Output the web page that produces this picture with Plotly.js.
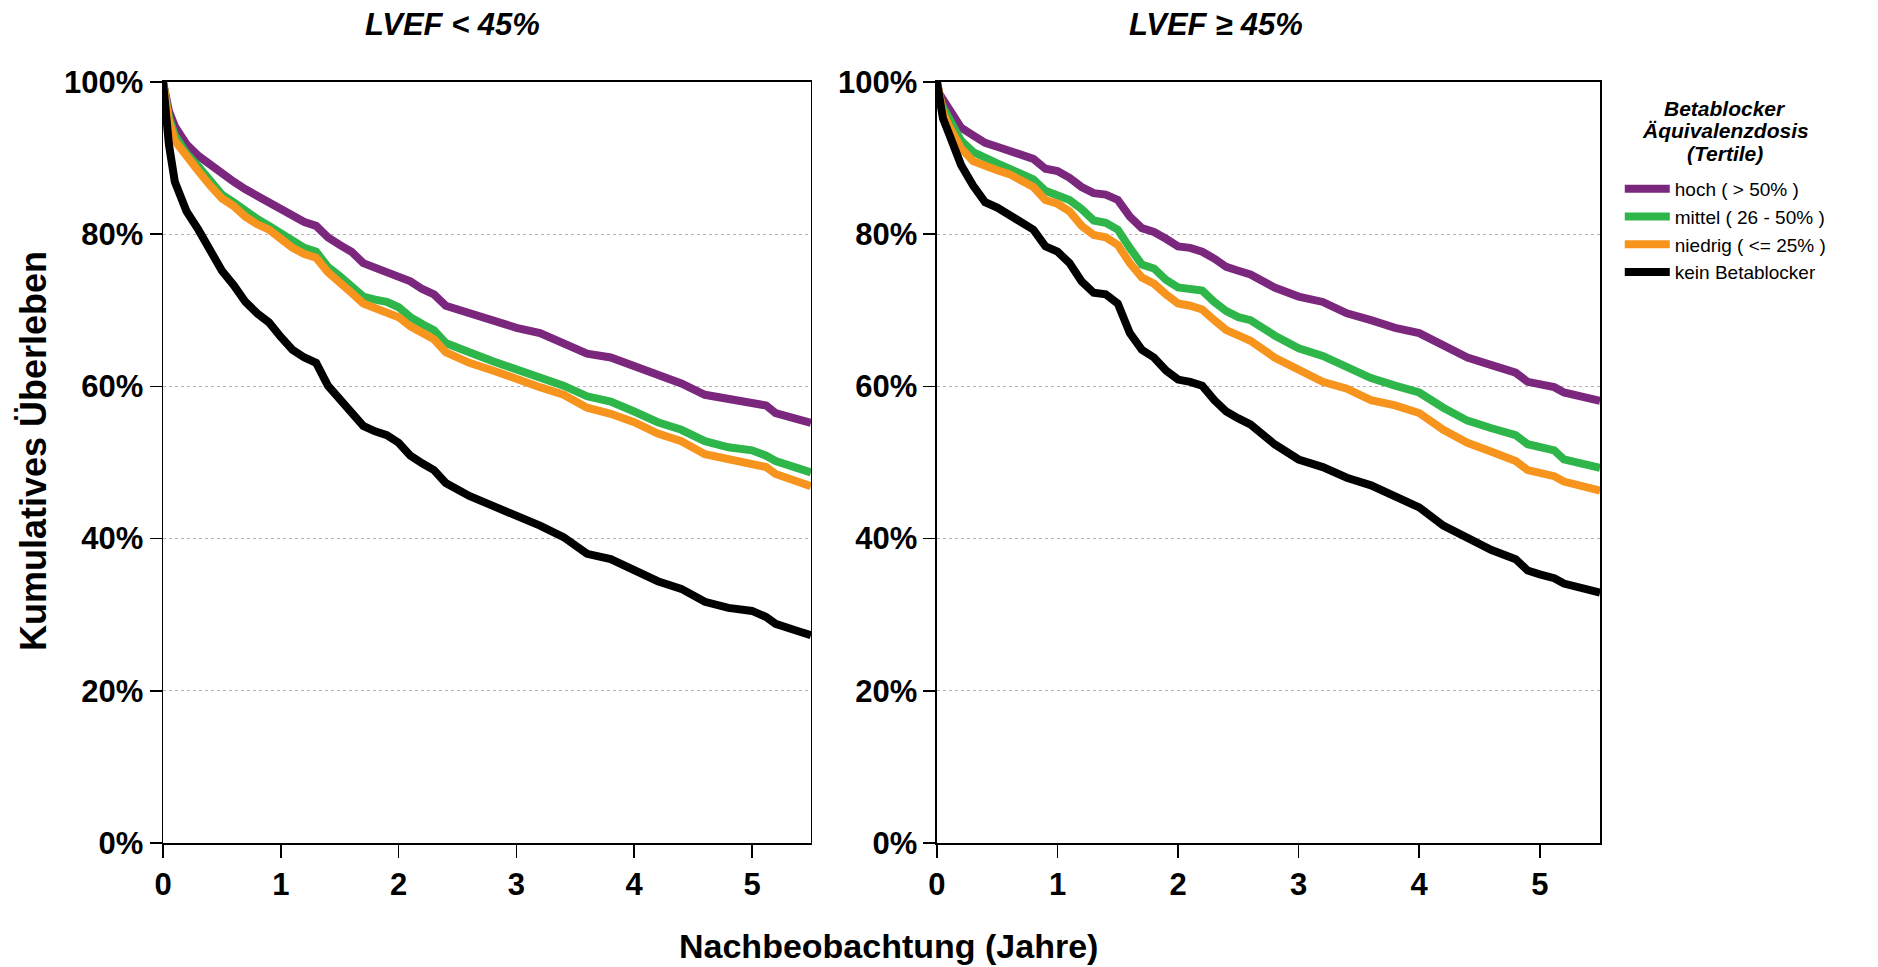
<!DOCTYPE html>
<html>
<head>
<meta charset="utf-8">
<script src="https://cdn.plot.ly/plotly-3.0.1.min.js"></script>
<style>html,body{margin:0;padding:0;background:#fff;}#chart{width:1878px;height:967px;}</style>
</head>
<body>
<div id="chart"></div>
<script>
// Follow-up time (years)
const times = [0, 0.02, 0.05, 0.1, 0.2, 0.3, 0.4, 0.5, 0.6, 0.7, 0.8, 0.9, 1.0, 1.1, 1.2, 1.3, 1.4, 1.5, 1.6, 1.7, 1.8, 1.9, 2.0, 2.1, 2.2, 2.3, 2.4, 2.5, 2.6, 2.8, 3.0, 3.2, 3.4, 3.6, 3.8, 4.0, 4.2, 4.4, 4.6, 4.8, 4.9, 5.0, 5.12, 5.2, 5.4, 5.5];

// LVEF < 45%
const lowHoch    = [1.0, 0.981, 0.962, 0.942, 0.918, 0.903, 0.891, 0.879, 0.869, 0.859, 0.850, 0.842, 0.833, 0.823, 0.816, 0.811, 0.796, 0.786, 0.777, 0.762, 0.756, 0.750, 0.745, 0.738, 0.728, 0.721, 0.706, 0.701, 0.696, 0.687, 0.677, 0.670, 0.657, 0.643, 0.638, 0.626, 0.614, 0.604, 0.589, 0.584, 0.582, 0.580, 0.575, 0.565, 0.555, 0.552];
const lowMittel  = [1.0, 0.975, 0.954, 0.930, 0.906, 0.889, 0.872, 0.852, 0.842, 0.830, 0.820, 0.811, 0.801, 0.789, 0.782, 0.777, 0.757, 0.745, 0.733, 0.718, 0.714, 0.711, 0.704, 0.691, 0.682, 0.674, 0.657, 0.650, 0.645, 0.633, 0.623, 0.611, 0.601, 0.587, 0.580, 0.567, 0.553, 0.543, 0.528, 0.520, 0.519, 0.516, 0.509, 0.502, 0.492, 0.487];
const lowNiedrig = [1.0, 0.972, 0.949, 0.923, 0.901, 0.883, 0.864, 0.847, 0.837, 0.823, 0.813, 0.806, 0.794, 0.782, 0.774, 0.769, 0.750, 0.735, 0.723, 0.709, 0.703, 0.699, 0.691, 0.679, 0.670, 0.662, 0.645, 0.638, 0.631, 0.621, 0.609, 0.599, 0.589, 0.572, 0.564, 0.553, 0.538, 0.528, 0.511, 0.504, 0.502, 0.499, 0.494, 0.485, 0.475, 0.469];
const lowKein    = [1.0, 0.962, 0.918, 0.869, 0.830, 0.806, 0.777, 0.752, 0.733, 0.711, 0.696, 0.684, 0.665, 0.648, 0.638, 0.631, 0.601, 0.582, 0.567, 0.548, 0.541, 0.536, 0.526, 0.509, 0.499, 0.490, 0.473, 0.465, 0.456, 0.443, 0.431, 0.417, 0.402, 0.380, 0.373, 0.358, 0.344, 0.334, 0.317, 0.309, 0.307, 0.305, 0.297, 0.288, 0.278, 0.273];

// LVEF >= 45%
const highHoch    = [1.0, 0.985, 0.977, 0.966, 0.940, 0.930, 0.920, 0.915, 0.910, 0.904, 0.899, 0.886, 0.883, 0.874, 0.862, 0.854, 0.852, 0.845, 0.823, 0.808, 0.803, 0.794, 0.784, 0.782, 0.777, 0.768, 0.757, 0.752, 0.747, 0.730, 0.718, 0.711, 0.696, 0.687, 0.677, 0.670, 0.653, 0.638, 0.628, 0.618, 0.606, 0.604, 0.599, 0.592, 0.584, 0.581];
const highMittel  = [1.0, 0.980, 0.967, 0.952, 0.923, 0.908, 0.899, 0.893, 0.886, 0.879, 0.872, 0.857, 0.852, 0.845, 0.833, 0.818, 0.815, 0.806, 0.782, 0.760, 0.755, 0.740, 0.730, 0.729, 0.726, 0.711, 0.699, 0.691, 0.687, 0.667, 0.650, 0.640, 0.626, 0.611, 0.601, 0.592, 0.572, 0.555, 0.545, 0.536, 0.524, 0.521, 0.516, 0.504, 0.497, 0.493];
const highNiedrig = [1.0, 0.976, 0.960, 0.942, 0.913, 0.896, 0.889, 0.884, 0.879, 0.869, 0.862, 0.845, 0.840, 0.830, 0.811, 0.799, 0.796, 0.786, 0.762, 0.743, 0.735, 0.721, 0.709, 0.706, 0.701, 0.687, 0.674, 0.667, 0.660, 0.638, 0.621, 0.606, 0.597, 0.582, 0.575, 0.565, 0.543, 0.526, 0.514, 0.502, 0.490, 0.487, 0.482, 0.475, 0.468, 0.463];
const highKein    = [1.0, 0.975, 0.952, 0.932, 0.891, 0.864, 0.842, 0.835, 0.825, 0.816, 0.806, 0.784, 0.777, 0.762, 0.738, 0.723, 0.721, 0.709, 0.670, 0.648, 0.638, 0.621, 0.609, 0.606, 0.601, 0.582, 0.567, 0.558, 0.550, 0.524, 0.504, 0.494, 0.480, 0.470, 0.455, 0.441, 0.417, 0.400, 0.385, 0.373, 0.358, 0.353, 0.348, 0.341, 0.334, 0.329];

const seriesNames = ['hoch ( &gt; 50% )', 'mittel ( 26 - 50% )', 'niedrig ( &lt;= 25% )', 'kein Betablocker'];
const seriesColors = ['#7b277d', '#2fb64a', '#f7941d', '#000000'];
const panelTitles = ['LVEF &lt; 45%', 'LVEF ≥ 45%'];
const yTitle = 'Kumulatives Überleben';
const xTitle = 'Nachbeobachtung (Jahre)';
const legendTitleLines = ['Betablocker', 'Äquivalenzdosis', '(Tertile)'];

const panels = [
  {xa: 'x', ya: 'y', data: [lowHoch, lowMittel, lowNiedrig, lowKein]},
  {xa: 'x2', ya: 'y2', data: [highHoch, highMittel, highNiedrig, highKein]}
];

const FONT = 'Arial, "Liberation Sans", sans-serif';
const traces = [];
panels.forEach((p, pi) => {
  p.data.forEach((vals, si) => {
    traces.push({
      type: 'scatter', mode: 'lines',
      x: times, y: vals,
      xaxis: p.xa, yaxis: p.ya,
      name: seriesNames[si],
      legendgroup: 'g' + si,
      showlegend: pi === 0,
      line: {color: seriesColors[si], width: 8},
      hoverinfo: 'skip'
    });
  });
});

function xAxis(domain, anchor) {
  return {
    domain: domain, anchor: anchor, range: [0, 5.5], dtick: 1, tick0: 0,
    showgrid: false, zeroline: false,
    showline: true, linecolor: '#000', linewidth: 2, mirror: true,
    ticks: 'outside', ticklen: 13, tickwidth: 1.5, tickcolor: '#000',
    tickfont: {family: FONT, size: 31, color: '#000', weight: 'bold'},
    automargin: false, fixedrange: true
  };
}
function yAxis(anchor) {
  return {
    domain: [0.1282, 0.9152], anchor: anchor, range: [0, 1], dtick: 0.2, tick0: 0,
    tickformat: '.0%',
    showgrid: true, gridcolor: '#b5b5b5', gridwidth: 1, griddash: 'dot',
    zeroline: false,
    showline: true, linecolor: '#000', linewidth: 1.5, mirror: true,
    ticks: 'outside', ticklen: 12, tickwidth: 1.5, tickcolor: '#000',
    tickfont: {family: FONT, size: 31, color: '#000', weight: 'bold'},
    automargin: false, fixedrange: true
  };
}

const annotations = [
  {xref: 'paper', yref: 'paper', x: 452 / 1878, y: 1 - 24 / 967, xanchor: 'center', yanchor: 'middle',
   text: '<b><i>' + panelTitles[0] + '</i></b>', showarrow: false, font: {family: FONT, size: 31, color: '#000'}},
  {xref: 'paper', yref: 'paper', x: 1216 / 1878, y: 1 - 24 / 967, xanchor: 'center', yanchor: 'middle',
   text: '<b><i>' + panelTitles[1] + '</i></b>', showarrow: false, font: {family: FONT, size: 31, color: '#000'}},
  {xref: 'paper', yref: 'paper', x: 34 / 1878, y: 1 - 451 / 967, xanchor: 'center', yanchor: 'middle',
   textangle: -90, text: '<b>' + yTitle + '</b>', showarrow: false, font: {family: FONT, size: 36, color: '#000'}},
  {xref: 'paper', yref: 'paper', x: 888 / 1878, y: 1 - 946 / 967, xanchor: 'center', yanchor: 'middle',
   text: '<b>' + xTitle + '</b>', showarrow: false, font: {family: FONT, size: 34, color: '#000'}}
];
const legendTitleY = [108, 131, 153];
legendTitleLines.forEach((t, i) => {
  annotations.push({xref: 'paper', yref: 'paper', x: 1725 / 1878, y: 1 - legendTitleY[i] / 967,
    xanchor: 'center', yanchor: 'middle', text: '<b><i>' + t + '</i></b>', showarrow: false,
    font: {family: FONT, size: 21, color: '#000'}});
});

const layout = {
  width: 1878, height: 967,
  margin: {l: 0, r: 0, t: 0, b: 0},
  paper_bgcolor: '#fff', plot_bgcolor: '#fff',
  font: {family: FONT, color: '#000'},
  xaxis: xAxis([0.0868, 0.4318], 'y'),
  yaxis: yAxis('x'),
  xaxis2: xAxis([0.4989, 0.8520], 'y2'),
  yaxis2: yAxis('x2'),
  showlegend: true,
  legend: {
    x: 0.8625, y: 1 - 170 / 967, xanchor: 'left', yanchor: 'top',
    bgcolor: 'rgba(0,0,0,0)', borderwidth: 0,
    font: {family: FONT, size: 19, color: '#000'},
    traceorder: 'normal', itemwidth: 45, tracegroupgap: 0
  },
  annotations: annotations
};

Plotly.newPlot('chart', traces, layout, {staticPlot: true, displayModeBar: false});
</script>
</body>
</html>
